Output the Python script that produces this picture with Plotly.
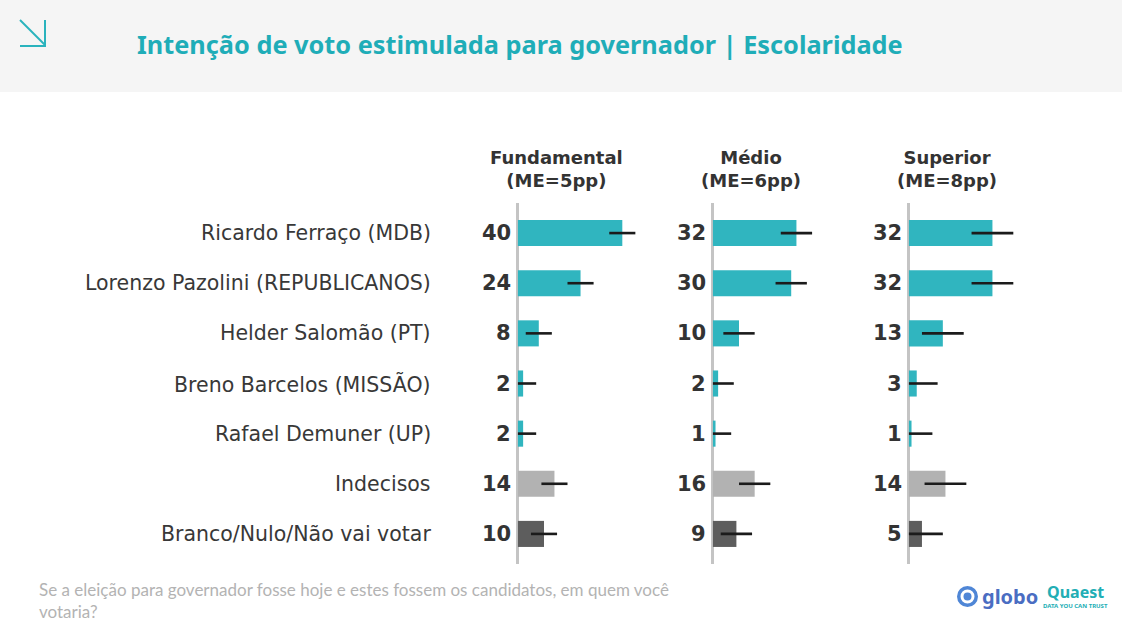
import plotly.graph_objects as go

# dados
candidatos = ["Ricardo Ferraço (MDB)", "Lorenzo Pazolini (REPUBLICANOS)", "Helder Salomão (PT)",
              "Breno Barcelos (MISSÃO)", "Rafael Demuner (UP)", "Indecisos", "Branco/Nulo/Não vai votar"]
fundamental = [40, 24, 8, 2, 2, 14, 10]
medio = [32, 30, 10, 2, 1, 16, 9]
superior = [32, 32, 13, 3, 1, 14, 5]
grupos = ["Fundamental", "Médio", "Superior"]
margens = [5, 6, 8]
cores = ["#30b5bf"] * 5 + ["#b2b2b2", "#5d5d5d"]

W, H = 1122, 630


def px(x):
    return x / W


def py(y):
    return 1 - y / H


series = [fundamental, medio, superior]
dominios = [(514, 694), (709, 889), (905, 1085)]
centros_titulo = [556, 751, 947]
faixa = [-1.5, -1.5 + 180 / 2.61]

fig = go.Figure()
annotations = []

for i, (vals, me, grupo) in enumerate(zip(series, margens, grupos)):
    xa = "x" if i == 0 else "x%d" % (i + 1)
    fig.add_trace(go.Bar(
        x=vals, y=candidatos, orientation="h",
        marker=dict(color=cores, line=dict(width=0)),
        width=0.52,
        error_x=dict(type="data", symmetric=False,
                     array=[me] * len(vals),
                     arrayminus=[min(me, v) for v in vals],
                     color="#1b1b1b", thickness=2.6, width=0),
        xaxis=xa, yaxis="y", hoverinfo="skip", showlegend=False,
    ))
    for c, v in zip(candidatos, vals):
        annotations.append(dict(
            text=str(v), x=0, xref=xa, y=c, yref="y",
            xanchor="right", yanchor="middle", xshift=-5, showarrow=False,
            font=dict(family="DejaVu Sans", size=21, color="#333333", weight=700),
        ))
    annotations.append(dict(
        text="%s<br>(ME=%dpp)" % (grupo, me),
        x=px(centros_titulo[i]), xref="paper", y=py(169), yref="paper",
        xanchor="center", yanchor="middle", showarrow=False,
        font=dict(family="DejaVu Sans", size=18, color="#333333", weight=700),
    ))
    eixo = dict(domain=[px(dominios[i][0]), px(dominios[i][1])], range=faixa,
                showgrid=False, showticklabels=False, ticks="",
                zeroline=True, zerolinecolor="#c4c4c4", zerolinewidth=3,
                anchor="y", fixedrange=True)
    fig.update_layout(**{("xaxis" if i == 0 else "xaxis%d" % (i + 1)): eixo})

for c in candidatos:
    annotations.append(dict(
        text=c, x=px(433), xref="paper", y=c, yref="y",
        xanchor="right", yanchor="middle", showarrow=False,
        font=dict(family="DejaVu Sans", size=20.5, color="#383838"),
    ))

# título
annotations.append(dict(
    text="Intenção de voto estimulada para governador | Escolaridade",
    x=px(135), xref="paper", y=py(44), yref="paper",
    xanchor="left", yanchor="middle", showarrow=False,
    font=dict(family="Noto Sans", size=25.3, color="#1fadb8", weight=700),
))

# rodapé
annotations.append(dict(
    text="Se a eleição para governador fosse hoje e estes fossem os candidatos, em quem você<br>votaria?",
    x=px(37), xref="paper", y=py(600), yref="paper",
    xanchor="left", yanchor="middle", align="left", showarrow=False,
    font=dict(family="Lato", size=17, color="#b3b3b3"),
))

# logos
annotations.append(dict(
    text="globo", x=px(980), xref="paper", y=py(596), yref="paper",
    xanchor="left", yanchor="middle", showarrow=False,
    font=dict(family="Noto Sans", size=20, color="#4a6dc2", weight=700),
))
annotations.append(dict(
    text="Quaest", x=px(1075), xref="paper", y=py(592), yref="paper",
    xanchor="center", yanchor="middle", showarrow=False,
    font=dict(family="Noto Sans", size=16, color="#22aeb5", weight=700),
))
annotations.append(dict(
    text="DATA YOU CAN TRUST", x=px(1075), xref="paper", y=py(606), yref="paper",
    xanchor="center", yanchor="middle", showarrow=False,
    font=dict(family="Noto Sans", size=6, color="#22aeb5", weight=700),
))

shapes = [
    dict(type="rect", xref="paper", yref="paper", x0=0, x1=1, y0=py(92), y1=1,
         fillcolor="#f5f5f5", line=dict(width=0), layer="below"),
    dict(type="line", xref="paper", yref="paper", x0=px(20), y0=py(20), x1=px(45), y1=py(45),
         line=dict(color="#2ab3bd", width=2)),
    dict(type="line", xref="paper", yref="paper", x0=px(45), y0=py(20), x1=px(45), y1=py(46),
         line=dict(color="#2ab3bd", width=2)),
    dict(type="line", xref="paper", yref="paper", x0=px(20), y0=py(46), x1=px(46), y1=py(46),
         line=dict(color="#2ab3bd", width=2)),
    dict(type="circle", xref="paper", yref="paper", x0=px(957), x1=px(978), y0=py(607), y1=py(586),
         fillcolor="#4f86d6", line=dict(width=0)),
    dict(type="circle", xref="paper", yref="paper", x0=px(960.5), x1=px(974.5), y0=py(603.5), y1=py(589.5),
         fillcolor="white", line=dict(width=0)),
    dict(type="circle", xref="paper", yref="paper", x0=px(963.5), x1=px(971.5), y0=py(600.5), y1=py(592.5),
         fillcolor="#4f86d6", line=dict(width=0)),
]

fig.update_layout(
    width=W, height=H,
    margin=dict(l=0, r=0, t=0, b=0),
    paper_bgcolor="white", plot_bgcolor="rgba(0,0,0,0)",
    bargap=0.48,
    yaxis=dict(type="category", categoryorder="array", categoryarray=candidatos,
               range=[6.6, -0.6], domain=[py(564), py(203)],
               showticklabels=False, showgrid=False, zeroline=False, ticks="",
               anchor="x", fixedrange=True),
    annotations=annotations,
    shapes=shapes,
)

fig.write_html("out.html", config={"displayModeBar": False},
               post_script="document.body.style.margin='0';")
